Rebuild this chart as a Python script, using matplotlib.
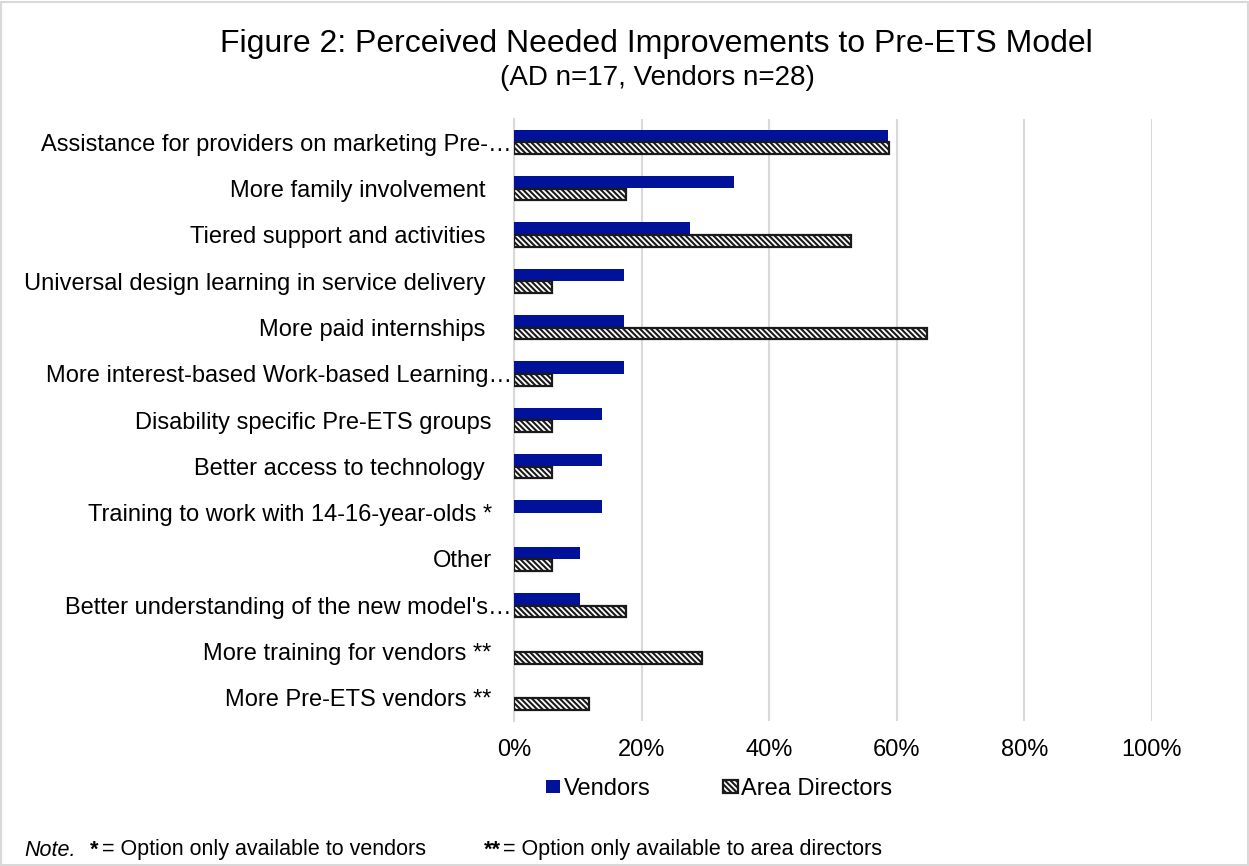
import numpy as np
import matplotlib
matplotlib.use('Agg')
import matplotlib.pyplot as plt
import matplotlib.transforms as mtransforms
from matplotlib.patches import Rectangle

plt.rcParams['font.family'] = ['Liberation Sans', 'DejaVu Sans']
plt.rcParams['hatch.linewidth'] = 1.5

# Categories (top to bottom), trailing spaces as in the original labels
categories = [
    'Assistance for providers on marketing Pre-…',
    'More family involvement ',
    'Tiered support and activities ',
    'Universal design learning in service delivery ',
    'More paid internships ',
    'More interest-based Work-based Learning…',
    'Disability specific Pre-ETS groups',
    'Better access to technology ',
    'Training to work with 14-16-year-olds *',
    'Other',
    "Better understanding of the new model's…",
    'More training for vendors **',
    'More Pre-ETS vendors **',
]
truncated = [0, 5, 10]

# Share of respondents
vendors = [0.586, 0.345, 0.276, 0.172, 0.172, 0.172, 0.138, 0.138, 0.138, 0.103, 0.103, 0.0, 0.0]
area_directors = [0.588, 0.176, 0.529, 0.059, 0.647, 0.059, 0.059, 0.059, 0.0, 0.059, 0.176, 0.294, 0.118]

ticks = [0, 0.2, 0.4, 0.6, 0.8, 1.0]
tick_labels = ['0%', '20%', '40%', '60%', '80%', '100%']

blue = '#00129A'
grid_col = '#D9D9D9'

fig = plt.figure(figsize=(12.49, 8.66), dpi=100)
fig.patches.append(Rectangle((0.0008, 0.001), 0.998, 0.997, transform=fig.transFigure,
                             fill=False, edgecolor='#D9D9D9', linewidth=1.5))

ax = fig.add_axes([0.4115, 0.1674, 0.5108, 0.6952])
y = np.arange(len(categories))
h = 0.265

v = np.array(vendors)
a = np.array(area_directors)
ax.barh(y - h / 2, np.where(v > 0, v, np.nan), height=h, color=blue, edgecolor='none',
        label='Vendors', zorder=3)
ax.barh(y + h / 2, np.where(a > 0, a, np.nan), height=h * 0.95, color='white', edgecolor='#1a1a1a',
        linewidth=1.6, hatch='\\\\\\\\\\\\', label='Area Directors', zorder=3)

ax.set_xlim(0, 1.0)
ax.set_ylim(len(categories) - 0.5, -0.5)
ax.set_xticks(ticks)
ax.set_xticklabels(tick_labels, fontsize=17)
ax.set_yticks(y)
ax.set_yticklabels(categories, fontsize=17)
ax.tick_params(axis='both', length=0)
ax.tick_params(axis='y', pad=16)
ax.tick_params(axis='x', pad=13)
ax.grid(axis='x', color=grid_col, linewidth=1.5, zorder=0)
for s in ['top', 'right', 'bottom']:
    ax.spines[s].set_visible(False)
ax.spines['left'].set_color(grid_col)
ax.spines['left'].set_linewidth(1.5)

# truncated labels run up to the axis
for i in truncated:
    lab = ax.get_yticklabels()[i]
    lab.set_transform(lab.get_transform() + mtransforms.ScaledTranslation(0.2, 0, fig.dpi_scale_trans))

fig.text(656 / 1249, 1 - 44 / 866, 'Figure 2: Perceived Needed Improvements to Pre-ETS Model',
         ha='center', va='center', fontsize=23)
fig.text(657 / 1249, 1 - 78 / 866, '(AD n=17, Vendors n=28)', ha='center', va='center', fontsize=20)

handles, labels = ax.get_legend_handles_labels()
fig.legend(handles, labels, loc='center', bbox_to_anchor=(719 / 1249, 1 - 789 / 866), ncol=2,
           frameon=False, fontsize=17, handlelength=0.6, handleheight=0.5,
           handletextpad=0.15, columnspacing=3.1)

ny = 1 - 850 / 866
fs = 15.5
fig.text(24 / 1249, ny, 'Note.', fontsize=fs, style='italic', va='center')
fig.text(90 / 1249, ny, '*', fontsize=fs, weight='bold', va='center')
fig.text(102 / 1249, ny, '= Option only available to vendors', fontsize=fs, va='center')
fig.text(484 / 1249, ny, '**', fontsize=fs, weight='bold', va='center')
fig.text(503 / 1249, ny, '= Option only available to area directors', fontsize=fs, va='center')

fig.savefig('out.png', dpi=100)
